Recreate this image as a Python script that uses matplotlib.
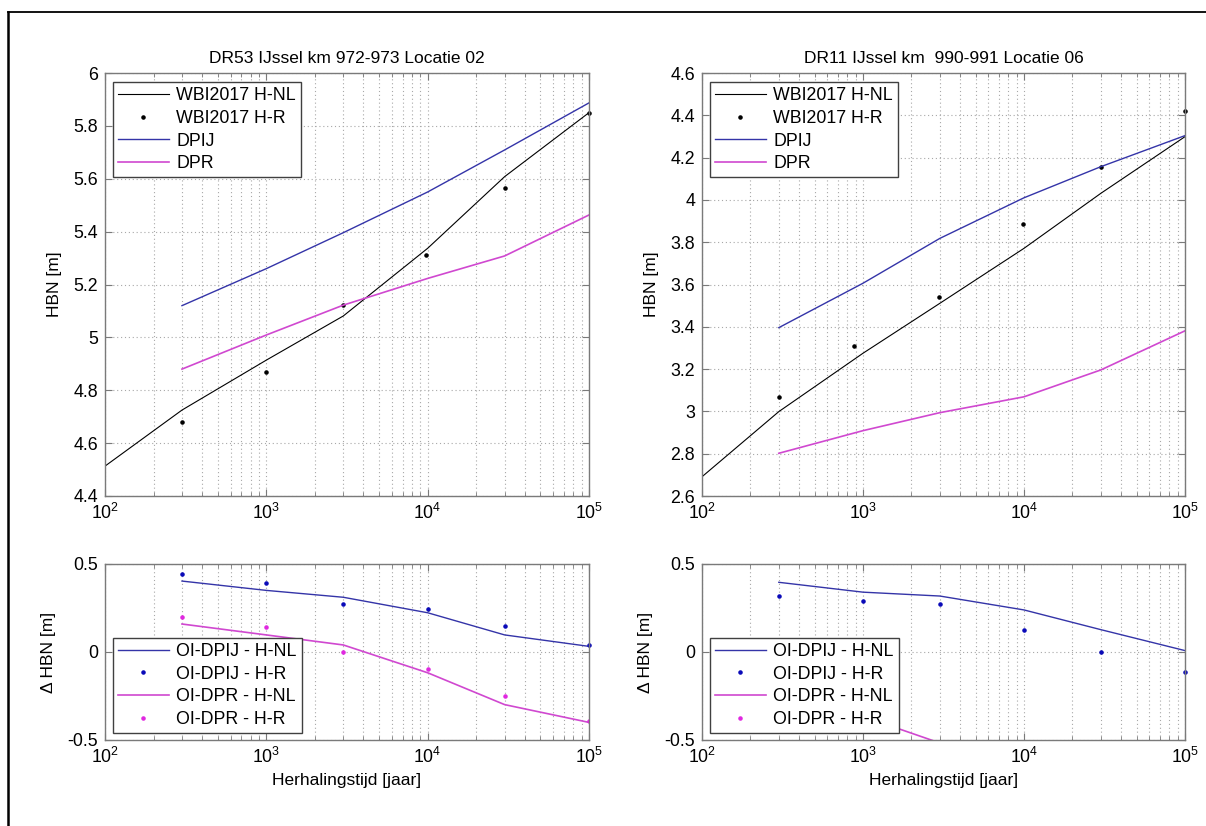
import matplotlib
matplotlib.use("Agg")
import matplotlib.pyplot as plt
from matplotlib.lines import Line2D
from matplotlib.ticker import LogLocator, NullFormatter, FixedLocator

plt.rcParams['font.family'] = ['Liberation Sans', 'DejaVu Sans']
plt.rcParams['mathtext.default'] = 'regular'

# Return periods [jaar]
T_LINE = [100, 300, 1000, 3000, 10000, 30000, 100000]
T_SUB = [300, 1000, 3000, 10000, 30000, 100000]

# --- DR53 IJssel km 972-973 Locatie 02 ---
titel_1 = "DR53 IJssel km 972-973 Locatie 02"
wbi_hnl_1 = [4.513, 4.725, 4.914, 5.081, 5.337, 5.608, 5.850]
t_hr_1 = [300, 1000, 3000, 9800, 30000, 100000]
wbi_hr_1 = [4.679, 4.870, 5.122, 5.311, 5.564, 5.850]
dpij_1 = [5.120, 5.260, 5.396, 5.550, 5.709, 5.887]
dpr_1 = [4.880, 5.009, 5.122, 5.223, 5.308, 5.463]
d_dpij_hnl_1 = [0.403, 0.350, 0.311, 0.223, 0.097, 0.032]
d_dpij_hr_1 = [0.441, 0.394, 0.271, 0.242, 0.146, 0.042]
d_dpr_hnl_1 = [0.159, 0.097, 0.040, -0.118, -0.299, -0.400]
d_dpr_hr_1 = [0.200, 0.142, 0.000, -0.097, -0.252, -0.390]

# --- DR11 IJssel km 990-991 Locatie 06 ---
titel_2 = "DR11 IJssel km  990-991 Locatie 06"
wbi_hnl_2 = [2.691, 2.999, 3.275, 3.511, 3.771, 4.031, 4.299]
t_hr_2 = [300, 880, 2970, 9800, 30000, 100000]
wbi_hr_2 = [3.069, 3.309, 3.542, 3.884, 4.157, 4.422]
dpij_2 = [3.396, 3.606, 3.818, 4.010, 4.157, 4.304]
dpr_2 = [2.802, 2.909, 2.994, 3.069, 3.196, 3.381]
d_dpij_hnl_2 = [0.396, 0.340, 0.318, 0.239, 0.127, 0.008]
d_dpij_hr_2 = [0.318, 0.290, 0.273, 0.123, 0.000, -0.114]
d_dpr_hnl_2 = [-0.197, -0.366, -0.517, -0.702, -0.835, -0.918]
d_dpr_hr_2 = [-0.267, -0.405, -0.548, -0.815, -0.961, -1.041]

legend_top = ["WBI2017 H-NL", "WBI2017 H-R", "DPIJ", "DPR"]
legend_bot = ["OI-DPIJ - H-NL", "OI-DPIJ - H-R", "OI-DPR - H-NL", "OI-DPR - H-R"]

C_BLUE_LINE = '#3434a8'
C_MAG_LINE = '#d048d0'
C_BLUE_DOT = '#0a0ab8'
C_MAG_DOT = '#e028e0'
AX_EDGE = '#7a7a7a'
GRID_C = '#a8a8a8'

W, H = 1206, 826
fig = plt.figure(figsize=(W / 100, H / 100), dpi=100)


def px_axes(x0, y0, x1, y1):
    return fig.add_axes([x0 / W, 1 - y1 / H, (x1 - x0) / W, (y1 - y0) / H])


def style(ax, yticks, ylim):
    ax.set_xscale('log')
    ax.set_xlim(1e2, 1e5)
    ax.set_ylim(*ylim)
    ax.yaxis.set_major_locator(FixedLocator(yticks))
    ax.xaxis.set_major_locator(LogLocator(base=10, numticks=10))
    ax.xaxis.set_minor_locator(LogLocator(base=10, subs=range(2, 10), numticks=20))
    ax.xaxis.set_minor_formatter(NullFormatter())
    for s in ax.spines.values():
        s.set_color(AX_EDGE)
        s.set_linewidth(1.0)
    ax.tick_params(which='both', direction='in', top=True, right=True,
                   color=AX_EDGE, labelsize=12.8, labelcolor='black')
    ax.tick_params(which='major', length=5, pad=5)
    ax.tick_params(which='minor', length=3)
    ax.grid(True, which='major', axis='both', linestyle=(0, (1, 2.5)),
            color=GRID_C, linewidth=0.8)
    ax.grid(True, which='minor', axis='x', linestyle=(0, (1, 2.5)),
            color=GRID_C, linewidth=0.8)
    ax.set_axisbelow(True)


def legend(ax, labels, anchor):
    lg = ax.legend(labels, loc='upper left', bbox_to_anchor=anchor,
                   borderaxespad=0, fancybox=False, framealpha=1,
                   edgecolor='#404040', fontsize=12.8, handlelength=2.9,
                   handletextpad=0.4, labelspacing=0.32, borderpad=0.28,
                   markerscale=1.0)
    lg.get_frame().set_linewidth(1.0)
    return lg


def top_panel(x0, x1, title, hnl, t_hr, hr, dpij, dpr, yticks, ylim):
    ax = px_axes(x0, 73, x1, 496)
    style(ax, yticks, ylim)
    ax.plot(T_LINE, hnl, color='black', lw=0.8)
    ax.plot(t_hr, hr, linestyle='none', marker='.', markersize=4.5,
            color='black', clip_on=False)
    ax.plot(T_SUB, dpij, color=C_BLUE_LINE, lw=1.0)
    ax.plot(T_SUB, dpr, color=C_MAG_LINE, lw=1.2)
    ax.set_title(title, fontsize=12.5, pad=7)
    ax.set_ylabel("HBN [m]", fontsize=12.5, labelpad=8)
    ax.set_yticklabels([f"{v:g}" for v in yticks])
    legend(ax, legend_top, (0.016, 0.978))
    return ax


def bottom_panel(x0, x1, l_dpij, d_dpij, l_dpr, d_dpr):
    ax = px_axes(x0, 564, x1, 740)
    style(ax, [-0.5, 0, 0.5], (-0.5, 0.5))
    ax.plot(T_SUB, l_dpij, color=C_BLUE_LINE, lw=1.0)
    ax.plot(T_SUB, d_dpij, linestyle='none', marker='.', markersize=4.5,
            color=C_BLUE_DOT, clip_on=False)
    ax.plot(T_SUB, l_dpr, color=C_MAG_LINE, lw=1.2)
    ax.plot(T_SUB, d_dpr, linestyle='none', marker='.', markersize=4.5,
            color=C_MAG_DOT)
    ax.set_yticklabels(["-0.5", "0", "0.5"])
    ax.set_ylabel("\u0394 HBN [m]", fontsize=12.5, labelpad=8)
    ax.set_xlabel("Herhalingstijd [jaar]", fontsize=12.5, labelpad=4)
    legend(ax, legend_bot, (0.016, 0.58))
    return ax


top_panel(105, 589, titel_1, wbi_hnl_1, t_hr_1, wbi_hr_1, dpij_1, dpr_1,
          [4.4, 4.6, 4.8, 5.0, 5.2, 5.4, 5.6, 5.8, 6.0], (4.4, 6.0))
top_panel(702, 1185, titel_2, wbi_hnl_2, t_hr_2, wbi_hr_2, dpij_2, dpr_2,
          [2.6, 2.8, 3.0, 3.2, 3.4, 3.6, 3.8, 4.0, 4.2, 4.4, 4.6], (2.6, 4.6))
bottom_panel(105, 589, d_dpij_hnl_1, d_dpij_hr_1, d_dpr_hnl_1, d_dpr_hr_1)
bottom_panel(702, 1185, d_dpij_hnl_2, d_dpij_hr_2, d_dpr_hnl_2, d_dpr_hr_2)

# Outer page frame (top and left edges)
fig.add_artist(Line2D([8 / W, 1.0], [1 - 12 / H, 1 - 12 / H],
                      transform=fig.transFigure, color='black', lw=1.3))
fig.add_artist(Line2D([8 / W, 8 / W], [1 - 12 / H, 0.0],
                      transform=fig.transFigure, color='black', lw=1.8))

fig.savefig("out.png", dpi=100, facecolor='white')
